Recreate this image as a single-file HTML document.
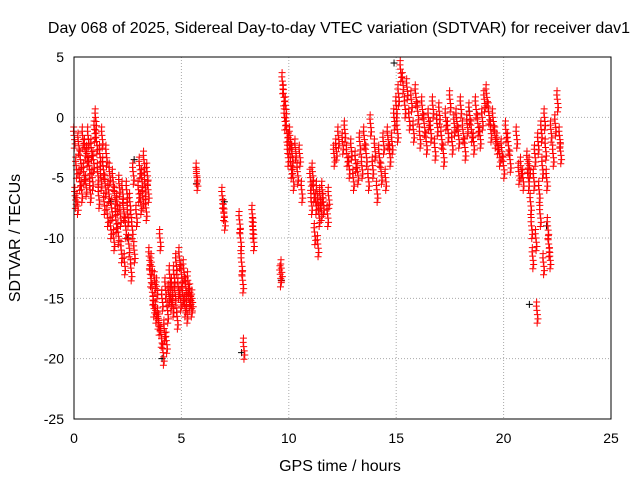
<!DOCTYPE html>
<html><head><meta charset="utf-8"><style>
body{margin:0;background:#fff;font-family:"Liberation Sans",sans-serif}
svg text{font-family:"Liberation Sans",sans-serif;font-size:14px;fill:#000}
svg text.big{font-size:16px}
</style></head><body>
<svg id="chart" width="640" height="480">
<text class="big" x="339" y="33" text-anchor="middle">Day 068 of 2025, Sidereal Day-to-day VTEC variation (SDTVAR) for receiver dav1</text>
<text class="big" x="340" y="471" text-anchor="middle">GPS time / hours</text>
<text class="big" transform="translate(20,238) rotate(-90)" text-anchor="middle">SDTVAR / TECUs</text>
<g id="grid"></g><g id="ticks"></g><g id="marks"></g>
<rect x="74" y="57" width="537" height="362" fill="none" stroke="#000"/>
</svg>
<script>
const xTicks=[0,5,10,15,20,25];
const yTicks=[5,0,-5,-10,-15,-20,-25];
const redT=[0,0.05,0.1,0.15,0.2,0.25,0.3,0.35,0.4,0.45,0.5,0.55,0.6,0.65,0.7,0.75,0.8,0.85,0.9,0.95,1.0,1.05,1.1,1.15,1.2,1.25,1.3,1.35,1.4,1.45,1.5,1.55,1.6,1.65,1.7,1.75,1.8,1.85,1.9,1.95,2.0,2.05,2.1,2.15,2.2,2.25,2.3,2.35,2.4,2.45,2.5,2.55,2.6,2.65,2.7,2.75,2.8,2.9,3.0,3.05,3.1,3.15,3.2,3.25,3.3,3.35,3.4,3.45,3.5,3.55,3.6,3.65,3.7,3.75,3.8,3.85,3.9,3.95,4.0,4.05,4.1,4.15,4.2,4.25,4.3,4.35,4.4,4.45,4.5,4.55,4.6,4.65,4.7,4.75,4.8,4.85,4.9,4.95,5.0,5.05,5.1,5.15,5.2,5.25,5.3,5.35,5.4,5.45,5.5,5.7,5.72,6.9,6.95,7.0,7.7,7.75,7.8,7.85,7.9,8.3,8.32,8.35,9.6,9.65,9.7,9.75,9.8,9.85,9.9,9.95,10.0,10.05,10.1,10.15,10.2,10.3,10.4,10.5,10.6,11.0,11.05,11.1,11.15,11.2,11.25,11.3,11.35,11.4,11.45,11.5,11.55,11.6,11.8,11.85,12.1,12.2,12.3,12.5,12.6,12.7,12.8,12.9,13.0,13.1,13.2,13.3,13.4,13.5,13.6,13.7,13.8,13.9,14.0,14.1,14.2,14.3,14.4,14.5,14.6,14.7,14.8,14.9,15.0,15.05,15.1,15.2,15.3,15.4,15.5,15.6,15.7,15.8,15.9,16.0,16.1,16.2,16.3,16.4,16.5,16.6,16.7,16.8,16.9,17.0,17.1,17.2,17.3,17.4,17.5,17.6,17.7,17.8,17.9,18.0,18.1,18.2,18.3,18.4,18.5,18.6,18.7,18.8,18.9,19.0,19.1,19.2,19.3,19.4,19.5,19.6,19.7,19.8,19.9,20.0,20.1,20.2,20.3,20.6,20.7,20.8,20.9,21.1,21.15,21.2,21.25,21.3,21.35,21.4,21.45,21.5,21.55,21.6,21.65,21.7,21.75,21.8,21.85,21.9,21.95,22.0,22.05,22.1,22.15,22.2,22.3,22.4,22.5,22.6,22.65,22.9];
const redV=[-1.5,-6.5,-4,-7,-2,-5,-3.5,-6,-1.5,-4.5,-2.5,-5.5,-3,-1.5,-4,-6,-2.5,-5,-3.5,-1,0,-2,-4.5,-6.5,-3,-5,-1.5,-4,-7,-5.5,-3,-8,-6,-4.5,-9,-7.5,-5,-10,-6.5,-8.5,-7,-9.5,-5.5,-8,-11,-6,-7.5,-12,-9,-6,-8,-10.5,-7,-12.5,-9,-4.5,-11,-8,-6,-4,-7,-5,-6.5,-3.5,-5.5,-7.5,-4.5,-6,-11.5,-13,-12,-14.5,-15.5,-13.5,-16,-14,-16.5,-17,-10,-18,-15,-19.5,-17.5,-14,-18.5,-16,-14.5,-13,-15,-14,-15.5,-13,-14.5,-12,-16.5,-14,-11.5,-15,-13,-14.5,-12.5,-15.5,-14,-16,-13.5,-15,-14.5,-15.5,-15,-4.5,-5,-6.5,-7.5,-8.3,-8.5,-10,-12,-13.5,-19,-8,-9,-10,-13,-12.5,3,2,0,1,-1,-3,-2,-1.5,-4,-3,-5,-2.5,-4.5,-3,-6,-5,-7,-4.5,-6,-9.5,-7,-6,-10.5,-8,-6.5,-7.5,-6,-7,-8,-6.5,-3,-2.5,-1.5,-2,-1,-3,-4,-2.5,-5,-3.5,-4.5,-2,-4,-1.5,-3,-5,-0.5,-4,-2.5,-6,-3,-4.5,-2,-5,-1.5,-3,-2,0,1,-1,2,4,3,1,2.5,0,1.5,-1,2,0.5,-1.5,1,-0.5,-2,0,-1,1,-2.5,-0.5,0.5,-1.5,-3,0,-1,1.5,-2,-0.5,0,-1.5,1,-1,-2.5,-0.5,0.5,-1,-2,1,-0.5,-1.5,0,1.5,2,0.5,-1,0,-1.5,-2,-3,-2.5,-4,-1,-2,-3.5,-1.5,-4.5,-4,-5,-3.5,-5,-4,-7,-9,-11.5,-5,-3,-10,-16,-2,-6,-8,-1,-4,-12,0,-2.5,-5,-9,-10.5,-11.5,-1,-3,-0.5,1.5,-1.5,-2.8];
const blackT=[1.7,2.5,2.8,4.1,5.7,7.0,7.8,9.65,14.9,18.4,21.2,22.0];
const blackV=[-7,-10,-3.5,-20,-5.5,-7,-19.5,-13.5,4.5,0.5,-15.5,-9];
const X0=74,X1=611,Y0=419,Y1=57;
const xs=t=>X0+(t-0)/25*(X1-X0);
const ys=v=>Y0-(v+25)/30*(Y0-Y1);
const NS='http://www.w3.org/2000/svg';
const grid=document.getElementById('grid'),ticks=document.getElementById('ticks'),marks=document.getElementById('marks');
function mk(tag,a,p){const e=document.createElementNS(NS,tag);for(const k in a)e.setAttribute(k,a[k]);p.appendChild(e);return e;}
xTicks.forEach(t=>{const x=xs(t);
 if(t>0&&t<25){const g=mk('line',{x1:x,x2:x,y1:Y1,y2:Y0,stroke:'#aaa','stroke-dasharray':'1,2'},grid);
 
 }
 const l=mk('text',{x:x,y:Y0+24,'text-anchor':'middle'},ticks);l.textContent=t;
 
 });
yTicks.forEach(v=>{const y=ys(v);
 if(v>-25&&v<5){const g=mk('line',{x1:X0,x2:X1,y1:y,y2:y,stroke:'#aaa','stroke-dasharray':'1,2'},grid);
 
 }
 const l=mk('text',{x:X0-10,y:y+5,'text-anchor':'end'},ticks);l.textContent=v;
 
 });
function plus(t,v,c,name){const x=xs(t),y=ys(v);
 const p=mk('path',{d:`M${x-3.5},${y}H${x+3.5}M${x},${y-3.5}V${y+3.5}`,stroke:c,'stroke-width':1},marks);
 
 }
const cluster=[[0,0],[0.025,-0.35],[0.05,-0.7],[-0.025,0.35],[0.012,-1.05],[-0.012,0.7]];
blackT.forEach((t,i)=>plus(t,blackV[i],'#000','black-point'));
redT.forEach((t,i)=>{cluster.forEach(o=>plus(t+o[0],redV[i]+o[1],'#f00','red-point'));});
</script>
</body></html>
